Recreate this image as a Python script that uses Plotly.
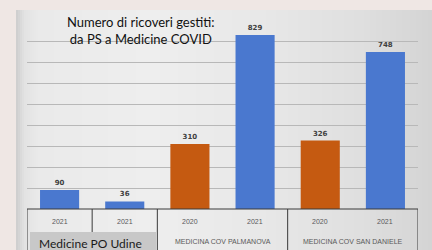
import plotly.graph_objects as go

categories = ["c0", "c1", "c2", "c3", "c4", "c5"]
years = ["2021", "2021", "2020", "2021", "2020", "2021"]
values = [90, 36, 310, 829, 326, 748]
bar_colors = ["#4a78cf", "#4a78cf", "#c55a11", "#4a78cf", "#c55a11", "#4a78cf"]
groups = [("MEDICINA COV PALMANOVA", 2.5), ("MEDICINA COV SAN DANIELE", 4.5)]
title_text = "Numero di ricoveri gestiti:<br>da PS a Medicine COVID"
group0_label = "Medicine PO Udine"

W, H = 432, 250
# plot area in pixels
PL, PR, PT, PB = 27, 418, 20, 209

def fy(yp):
    return (H - yp) / H

fig = go.Figure()

# --- background panel gradient (heatmap on full-figure axes) ---
stops = [(16, 204), (24, 226), (40, 234), (150, 238), (260, 232), (360, 223), (432, 212)]
edges = list(range(16, 433, 2))
gvals = []
for a, b in zip(edges[:-1], edges[1:]):
    xm = (a + b) / 2
    g = stops[-1][1]
    for (xs0, g0), (xs1, g1) in zip(stops[:-1], stops[1:]):
        if xs0 <= xm <= xs1:
            g = g0 + (g1 - g0) * (xm - xs0) / (xs1 - xs0)
            break
    gvals.append(g)
fig.add_trace(go.Heatmap(
    x=edges, y=[10, 250], z=[gvals], xaxis="x", yaxis="y",
    colorscale=[[0, "rgb(0,0,0)"], [1, "rgb(255,255,255)"]], zmin=0, zmax=255,
    showscale=False, hoverinfo="skip", zsmooth=False,
))

# --- bars ---
fig.add_trace(go.Bar(
    x=list(range(len(categories))), y=values, xaxis="x2", yaxis="y2",
    marker=dict(color=bar_colors, line=dict(width=0)),
    width=0.6,
    text=[str(v) for v in values], textposition="outside",
    textfont=dict(family="DejaVu Sans", size=7, color="#404040", weight="bold"),
    cliponaxis=False, hoverinfo="skip",
))

shapes = []
line_c = "#3a3a3a"
shapes.append(dict(type="line", xref="x2", yref="paper", x0=-0.5, x1=5.5,
                   y0=fy(PB), y1=fy(PB), line=dict(color=line_c, width=1)))
for xb in [-0.5, 0.5, 1.5, 3.5, 5.5]:
    shapes.append(dict(type="line", xref="x2", yref="paper", x0=xb, x1=xb,
                       y0=fy(PB), y1=fy(252), line=dict(color=line_c, width=1)))
shapes.append(dict(type="rect", xref="paper", yref="paper", x0=30 / W, x1=156 / W,
                   y0=fy(252), y1=fy(232), fillcolor="#c8c8c8", line=dict(width=0)))

annotations = []
for i, yr in enumerate(years):
    annotations.append(dict(x=i, y=fy(221), xref="x2", yref="paper", text=yr, showarrow=False,
                            xanchor="center", yanchor="middle",
                            font=dict(family="Liberation Sans", size=7, color="#595959")))
for name, xc in groups:
    annotations.append(dict(x=xc, y=fy(241), xref="x2", yref="paper", text=name, showarrow=False,
                            xanchor="center", yanchor="middle",
                            font=dict(family="Liberation Sans", size=7, color="#595959")))
annotations.append(dict(x=37 / W, y=fy(243), xref="paper", yref="paper", text=group0_label,
                        showarrow=False, xanchor="left", yanchor="middle",
                        font=dict(family="Lato", size=12, color="#1a1a1a")))
annotations.append(dict(x=141 / W, y=fy(30), xref="paper", yref="paper", text=title_text,
                        showarrow=False, align="center", xanchor="center", yanchor="middle",
                        font=dict(family="Lato", size=13, color="#111111")))

hidden = dict(showticklabels=False, showgrid=False, zeroline=False, showline=False,
              ticks="", fixedrange=True)
fig.update_layout(
    width=W, height=H,
    margin=dict(l=0, r=0, t=0, b=0),
    paper_bgcolor="#efe7e4", plot_bgcolor="rgba(0,0,0,0)",
    showlegend=False,
    xaxis=dict(domain=[0, 1], range=[0, W], **hidden),
    yaxis=dict(domain=[0, 1], range=[H, 0], **hidden),
    xaxis2=dict(domain=[PL / W, PR / W], range=[-0.5, 5.5], anchor="y2", **hidden),
    yaxis2=dict(domain=[fy(PB), fy(PT)], range=[0, 900], dtick=100, anchor="x2",
                showticklabels=False, showgrid=True, gridcolor="#b8b8b8", gridwidth=1,
                zeroline=False, showline=False, ticks="", fixedrange=True),
    shapes=shapes, annotations=annotations,
)

fig.write_html("out.html", config={"displayModeBar": False},
               post_script="document.body.style.margin='0';document.body.style.overflow='hidden';")
